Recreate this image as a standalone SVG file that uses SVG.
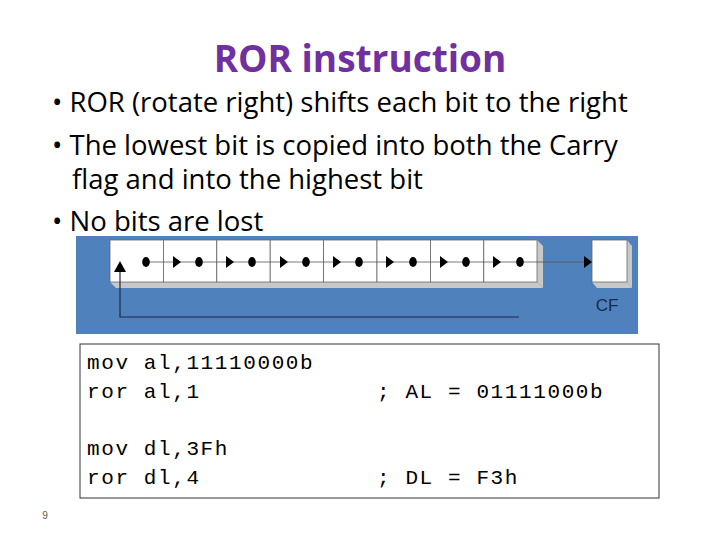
<svg xmlns="http://www.w3.org/2000/svg" width="720" height="540" viewBox="0 0 720 540">
<style>
.b{font-family:"Open Sans","DejaVu Sans",sans-serif;font-size:27.5px;fill:#000}
.m{font-family:"Liberation Mono",monospace;font-size:21px;letter-spacing:1.6px;fill:#000}
.c{fill:#fff;stroke:#666;stroke-width:0.8}
.s{fill:#c8c8c8}
</style>
<rect width="720" height="540" fill="#fff"/>
<text x="360" y="72" text-anchor="middle" font-family="Open Sans,DejaVu Sans,sans-serif" font-size="37" font-weight="bold" fill="#7030a0">ROR instruction</text>
<text class="b" x="52" y="112">• ROR (rotate right) shifts each bit to the right</text>
<text class="b" x="52" y="155">• The lowest bit is copied into both the Carry</text>
<text class="b" x="72" y="189">flag and into the highest bit</text>
<text class="b" x="52" y="231">• No bits are lost</text>
<rect x="76" y="236" width="562" height="98" fill="#4f81bd"/>
<g id="register">
<polygon class="s" points="110,282 537,282 543,288 116,288"/>
<polygon class="s" points="537,240 543,246 543,288 537,282"/>
<rect class="c" x="110" y="240" width="53.4" height="42"/><rect class="c" x="163.4" y="240" width="53.4" height="42"/>
<rect class="c" x="216.8" y="240" width="53.4" height="42"/><rect class="c" x="270.2" y="240" width="53.4" height="42"/>
<rect class="c" x="323.6" y="240" width="53.4" height="42"/><rect class="c" x="377" y="240" width="53.4" height="42"/>
<rect class="c" x="430.4" y="240" width="53.4" height="42"/><rect class="c" x="483.8" y="240" width="53.2" height="42"/>
</g>
<g id="cf">
<polygon class="s" points="592,282 627,282 632,288 597,288"/>
<polygon class="s" points="627,240 632,246 632,288 627,282"/>
<rect class="c" x="592" y="240" width="35" height="42"/>
<text x="607" y="311" text-anchor="middle" font-family="Liberation Sans,sans-serif" font-size="17" fill="#1a2a4a">CF</text>
</g>
<g id="connectors" fill="#000" stroke="#333">
<line x1="146" y1="262" x2="588" y2="262" stroke-width="0.8" stroke="#555"/>
<g stroke="none">
<ellipse cx="146" cy="262" rx="3.8" ry="5"/><ellipse cx="199" cy="262" rx="3.8" ry="5"/><ellipse cx="252" cy="262" rx="3.8" ry="5"/><ellipse cx="306" cy="262" rx="3.8" ry="5"/><ellipse cx="359" cy="262" rx="3.8" ry="5"/><ellipse cx="413" cy="262" rx="3.8" ry="5"/><ellipse cx="466" cy="262" rx="3.8" ry="5"/><ellipse cx="520" cy="262" rx="3.8" ry="5"/>
<path d="M173,256 l8,6 l-8,6z M226,256 l8,6 l-8,6z M280,256 l8,6 l-8,6z M333,256 l8,6 l-8,6z M386,256 l8,6 l-8,6z M440,256 l8,6 l-8,6z M493,256 l8,6 l-8,6z M584,256 l8,6 l-8,6z"/>
<path d="M120,261 l-6,11 h12z"/>
</g>
<polyline points="120,272 120,317 519,317" fill="none" stroke="#1a2a4a" stroke-width="1.2"/>
</g>
<g id="code">
<rect x="80" y="344" width="579" height="154" fill="#fff" stroke="#333" stroke-width="1"/>
<text class="m" x="87" y="369">mov al,11110000b</text>
<text class="m" x="87" y="398">ror al,1</text>
<text class="m" x="377" y="398">; AL = 01111000b</text>
<text class="m" x="87" y="455">mov dl,3Fh</text>
<text class="m" x="87" y="484">ror dl,4</text>
<text class="m" x="377" y="484">; DL = F3h</text>
</g>
<text x="45" y="519" text-anchor="middle" font-family="Liberation Sans,sans-serif" font-size="10" fill="#555">9</text>
</svg>
